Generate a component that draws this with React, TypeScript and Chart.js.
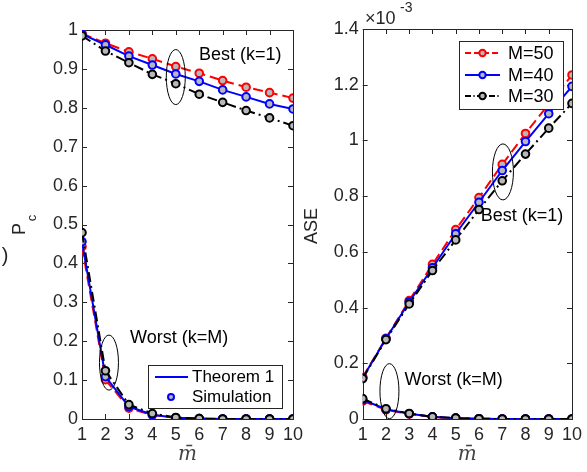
import React, { useEffect, useRef } from "react";
import { Chart, registerables } from "chart.js";
Chart.register(...registerables);

// ---------- data ----------
const M_BAR = [1, 2, 3, 4, 5, 6, 7, 8, 9, 10];
const SERIES_LABELS = ["M=50", "M=40", "M=30"];
const LEFT_LEGEND = ["Theorem 1", "Simulation"];

const PC_BEST_M50 = [0.991, 0.966, 0.944, 0.926, 0.906, 0.889, 0.87, 0.853, 0.839, 0.825];
const PC_BEST_M40 = [0.989, 0.962, 0.933, 0.91, 0.887, 0.868, 0.846, 0.828, 0.81, 0.797];
const PC_BEST_M30 = [0.985, 0.946, 0.916, 0.886, 0.862, 0.835, 0.814, 0.793, 0.774, 0.754];
const PC_WORST_M50 = [0.443, 0.101, 0.028, 0.01, 0.003, 0.001, 0, 0, 0, 0];
const PC_WORST_M40 = [0.456, 0.109, 0.032, 0.011, 0.003, 0.001, 0, 0, 0, 0];
const PC_WORST_M30 = [0.479, 0.124, 0.037, 0.014, 0.004, 0.001, 0, 0, 0, 0];

// ASE in units of 1e-3
const ASE_BEST_M50 = [0.15, 0.29, 0.425, 0.555, 0.68, 0.795, 0.914, 1.025, 1.13, 1.235];
const ASE_BEST_M40 = [0.148, 0.288, 0.42, 0.543, 0.665, 0.778, 0.892, 0.996, 1.096, 1.194];
const ASE_BEST_M30 = [0.145, 0.285, 0.413, 0.533, 0.643, 0.752, 0.855, 0.951, 1.044, 1.133];
const ASE_WORST_M50 = [0.064, 0.033, 0.018, 0.007, 0.003, 0.001, 0, 0, 0, 0];
const ASE_WORST_M40 = [0.069, 0.035, 0.019, 0.008, 0.003, 0.001, 0, 0, 0, 0];
const ASE_WORST_M30 = [0.073, 0.037, 0.02, 0.008, 0.003, 0.001, 0, 0, 0, 0];

// ---------- styles ----------
const COLORS = ["#ff0000", "#0000ff", "#000000"];
const DASHES: number[][] = [[10, 5], [], [10, 4, 2, 4]];
const MARKER_FILL = "#b8b8b8";
const AXIS_COLOR = "#262626";
const FONT = "Liberation Sans, Arial, Helvetica, sans-serif";
const W = 587;
const H = 472;

function ds(values: number[], i: number) {
  return {
    data: values.map((v, k) => ({ x: M_BAR[k], y: v })),
    borderColor: COLORS[i],
    borderWidth: 2,
    borderDash: DASHES[i],
    pointRadius: 3.8,
    pointBorderWidth: 2,
    pointBorderColor: COLORS[i],
    pointBackgroundColor: MARKER_FILL,
    fill: false,
    tension: 0,
    order: 2 - i, // black on top, then blue, then red
  };
}

type Deco = {
  ellipses: { x: number; y: number; rx: number; ry: number }[];
  texts: { x: number; y: number; text: string }[];
  draw: (ctx: CanvasRenderingContext2D, chart: any) => void;
};

function decoPlugin(deco: Deco) {
  return {
    id: "deco",
    beforeDatasetsDraw(chart: any) {
      const { ctx, chartArea: a, scales } = chart;
      ctx.save();
      ctx.strokeStyle = AXIS_COLOR;
      ctx.lineWidth = 1;
      ctx.strokeRect(Math.round(a.left) + 0.5, Math.round(a.top) + 0.5, Math.round(a.right - a.left), Math.round(a.bottom - a.top));
      const tl = 5;
      ctx.beginPath();
      for (const t of scales.x.ticks) {
        const px = Math.round(scales.x.getPixelForValue(t.value)) + 0.5;
        ctx.moveTo(px, a.bottom);
        ctx.lineTo(px, a.bottom - tl);
        ctx.moveTo(px, a.top);
        ctx.lineTo(px, a.top + tl);
      }
      for (const t of scales.y.ticks) {
        const py = Math.round(scales.y.getPixelForValue(t.value)) + 0.5;
        ctx.moveTo(a.left, py);
        ctx.lineTo(a.left + tl, py);
        ctx.moveTo(a.right, py);
        ctx.lineTo(a.right - tl, py);
      }
      ctx.stroke();
      ctx.restore();
    },
    afterDatasetsDraw(chart: any) {
      const { ctx, scales } = chart;
      ctx.save();
      ctx.strokeStyle = "#000";
      ctx.lineWidth = 1;
      ctx.setLineDash([]);
      for (const e of deco.ellipses) {
        ctx.beginPath();
        ctx.ellipse(scales.x.getPixelForValue(e.x), scales.y.getPixelForValue(e.y), e.rx, e.ry, 0, 0, Math.PI * 2);
        ctx.stroke();
      }
      ctx.fillStyle = "#000";
      ctx.font = `18px ${FONT}`;
      ctx.textAlign = "left";
      ctx.textBaseline = "middle";
      for (const t of deco.texts) {
        ctx.fillText(t.text, scales.x.getPixelForValue(t.x), scales.y.getPixelForValue(t.y));
      }
      deco.draw(ctx, chart);
      ctx.restore();
    },
  };
}

function axisOpts(min: number, max: number, step: number, yWidth: number) {
  return {
    x: {
      type: "linear" as const,
      min: 1,
      max: 10,
      offset: false,
      afterFit: (s: any) => { s.height = 40; },
      ticks: { stepSize: 1, color: AXIS_COLOR, font: { family: FONT, size: 18 }, padding: 5, maxRotation: 0, autoSkip: false },
      grid: { display: false, drawTicks: false },
      border: { display: false },
    },
    y: {
      type: "linear" as const,
      min,
      max,
      afterFit: (s: any) => { s.width = yWidth; },
      ticks: {
        stepSize: step,
        color: AXIS_COLOR,
        font: { family: FONT, size: 18 },
        padding: 4,
        callback: (v: any) => String(Number(Number(v).toFixed(2))),
      },
      grid: { display: false, drawTicks: false },
      border: { display: false },
    },
  };
}

function legendLine(ctx: CanvasRenderingContext2D, x0: number, x1: number, y: number, i: number, marker: boolean) {
  ctx.save();
  ctx.strokeStyle = COLORS[i];
  ctx.lineWidth = 2;
  ctx.setLineDash(DASHES[i].length ? DASHES[i].map((d) => d * 0.6) : []);
  ctx.beginPath();
  ctx.moveTo(x0, y);
  ctx.lineTo(x1, y);
  ctx.stroke();
  if (marker) {
    ctx.setLineDash([]);
    ctx.fillStyle = MARKER_FILL;
    ctx.beginPath();
    ctx.arc((x0 + x1) / 2, y, 3.2, 0, Math.PI * 2);
    ctx.fill();
    ctx.stroke();
  }
  ctx.restore();
}

export default function App() {
  const leftRef = useRef<HTMLCanvasElement>(null);
  const rightRef = useRef<HTMLCanvasElement>(null);

  useEffect(() => {
    const left = new Chart(leftRef.current!, {
      type: "line",
      data: {
        datasets: [
          ds(PC_BEST_M50, 0), ds(PC_BEST_M40, 1), ds(PC_BEST_M30, 2),
          ds(PC_WORST_M50, 0), ds(PC_WORST_M40, 1), ds(PC_WORST_M30, 2),
        ],
      },
      options: {
        animation: false,
        responsive: false,
        devicePixelRatio: 1,
        layout: { padding: { left: 22, right: W - 293, top: 30, bottom: 13 } },
        plugins: { legend: { display: false }, tooltip: { enabled: false } },
        scales: axisOpts(0, 1, 0.1, 60) as any,
      },
      plugins: [
        decoPlugin({
          ellipses: [
            { x: 5, y: 0.879, rx: 9.5, ry: 27.5 },
            { x: 2.15, y: 0.145, rx: 9.5, ry: 27.5 },
          ],
          texts: [
            { x: 5.99, y: 0.936, text: "Best (k=1)" },
            { x: 3.05, y: 0.207, text: "Worst (k=M)" },
          ],
          draw: (ctx, chart) => {
            const a = chart.chartArea;
            // legend box
            const bx = a.right - 145, by = a.bottom - 54, bw = 134, bh = 43;
            ctx.fillStyle = "#fff";
            ctx.fillRect(bx, by, bw, bh);
            ctx.strokeStyle = AXIS_COLOR;
            ctx.lineWidth = 1;
            ctx.strokeRect(bx + 0.5, by + 0.5, bw, bh);
            legendLine(ctx, bx + 7, bx + 40, by + 12, 1, false);
            ctx.save();
            ctx.strokeStyle = COLORS[1];
            ctx.lineWidth = 2;
            ctx.fillStyle = MARKER_FILL;
            ctx.beginPath();
            ctx.arc(bx + 23, by + 32, 3, 0, Math.PI * 2);
            ctx.fill();
            ctx.stroke();
            ctx.restore();
            ctx.fillStyle = "#000";
            ctx.font = `17px ${FONT}`;
            ctx.textAlign = "left";
            ctx.textBaseline = "middle";
            ctx.fillText(LEFT_LEGEND[0], bx + 44, by + 12);
            ctx.fillText(LEFT_LEGEND[1], bx + 44, by + 32);
            // y title
            ctx.save();
            ctx.translate(20, 229);
            ctx.rotate(-Math.PI / 2);
            ctx.font = `18px ${FONT}`;
            ctx.fillStyle = AXIS_COLOR;
            ctx.textAlign = "center";
            ctx.fillText("P", 0, 0);
            ctx.font = `13px ${FONT}`;
            ctx.fillText("c", 11, 12);
            ctx.restore();
            ctx.font = `20px ${FONT}`;
            ctx.fillStyle = AXIS_COLOR;
            ctx.textAlign = "center";
            ctx.fillText(")", 5, 256);
            // x title
            ctx.font = `italic 20px "DejaVu Serif", "Liberation Serif", serif`;
            ctx.fillStyle = "#444";
            ctx.fillText("m\u0304", (a.left + a.right) / 2, 455);
          },
        }),
      ],
    });

    const right = new Chart(rightRef.current!, {
      type: "line",
      data: {
        datasets: [
          ds(ASE_BEST_M50, 0), ds(ASE_BEST_M40, 1), ds(ASE_BEST_M30, 2),
          ds(ASE_WORST_M50, 0), ds(ASE_WORST_M40, 1), ds(ASE_WORST_M30, 2),
        ],
      },
      options: {
        animation: false,
        responsive: false,
        devicePixelRatio: 1,
        layout: { padding: { left: 322.7, right: 13, top: 29, bottom: 13 } },
        plugins: { legend: { display: false }, tooltip: { enabled: false } },
        scales: axisOpts(0, 1.4, 0.2, 40) as any,
      },
      plugins: [
        decoPlugin({
          ellipses: [
            { x: 7.03, y: 0.887, rx: 10.5, ry: 28 },
            { x: 2.15, y: 0.1, rx: 9.5, ry: 27.5 },
          ],
          texts: [
            { x: 6.08, y: 0.729, text: "Best (k=1)" },
            { x: 2.8, y: 0.141, text: "Worst (k=M)" },
          ],
          draw: (ctx, chart) => {
            const a = chart.chartArea;
            const bx = 459, by = 41, bw = 104, bh = 68;
            ctx.fillStyle = "#fff";
            ctx.fillRect(bx, by, bw, bh);
            ctx.strokeStyle = AXIS_COLOR;
            ctx.lineWidth = 1;
            ctx.strokeRect(bx + 0.5, by + 0.5, bw, bh);
            const ys = [by + 12, by + 34, by + 55];
            ctx.font = `18px ${FONT}`;
            for (let i = 0; i < 3; i++) {
              legendLine(ctx, bx + 6, bx + 41, ys[i], i, true);
              ctx.fillStyle = "#000";
              ctx.textAlign = "left";
              ctx.textBaseline = "middle";
              ctx.fillText(SERIES_LABELS[i], bx + 49, ys[i] + 1);
            }
            // y title
            ctx.save();
            ctx.translate(312, 226);
            ctx.rotate(-Math.PI / 2);
            ctx.font = `18px ${FONT}`;
            ctx.fillStyle = AXIS_COLOR;
            ctx.textAlign = "center";
            ctx.textBaseline = "middle";
            ctx.fillText("ASE", 0, 0);
            ctx.restore();
            // multiplier
            ctx.fillStyle = AXIS_COLOR;
            ctx.textAlign = "left";
            ctx.textBaseline = "middle";
            ctx.font = `18px ${FONT}`;
            ctx.fillText("\u00d710", 365, 19);
            ctx.font = `14px ${FONT}`;
            ctx.fillText("-3", 400, 8);
            // x title
            ctx.textAlign = "center";
            ctx.font = `italic 20px "DejaVu Serif", "Liberation Serif", serif`;
            ctx.fillStyle = "#444";
            ctx.fillText("m\u0304", (a.left + a.right) / 2, 455);
          },
        }),
      ],
    });

    return () => {
      left.destroy();
      right.destroy();
    };
  }, []);

  const cs: React.CSSProperties = { position: "absolute", left: 0, top: 0, width: W, height: H };
  return (
    <div style={{ position: "absolute", left: 0, top: 0, width: W, height: H, background: "#fff" }}>
      <canvas ref={leftRef} width={W} height={H} style={cs} />
      <canvas ref={rightRef} width={W} height={H} style={cs} />
    </div>
  );
}
